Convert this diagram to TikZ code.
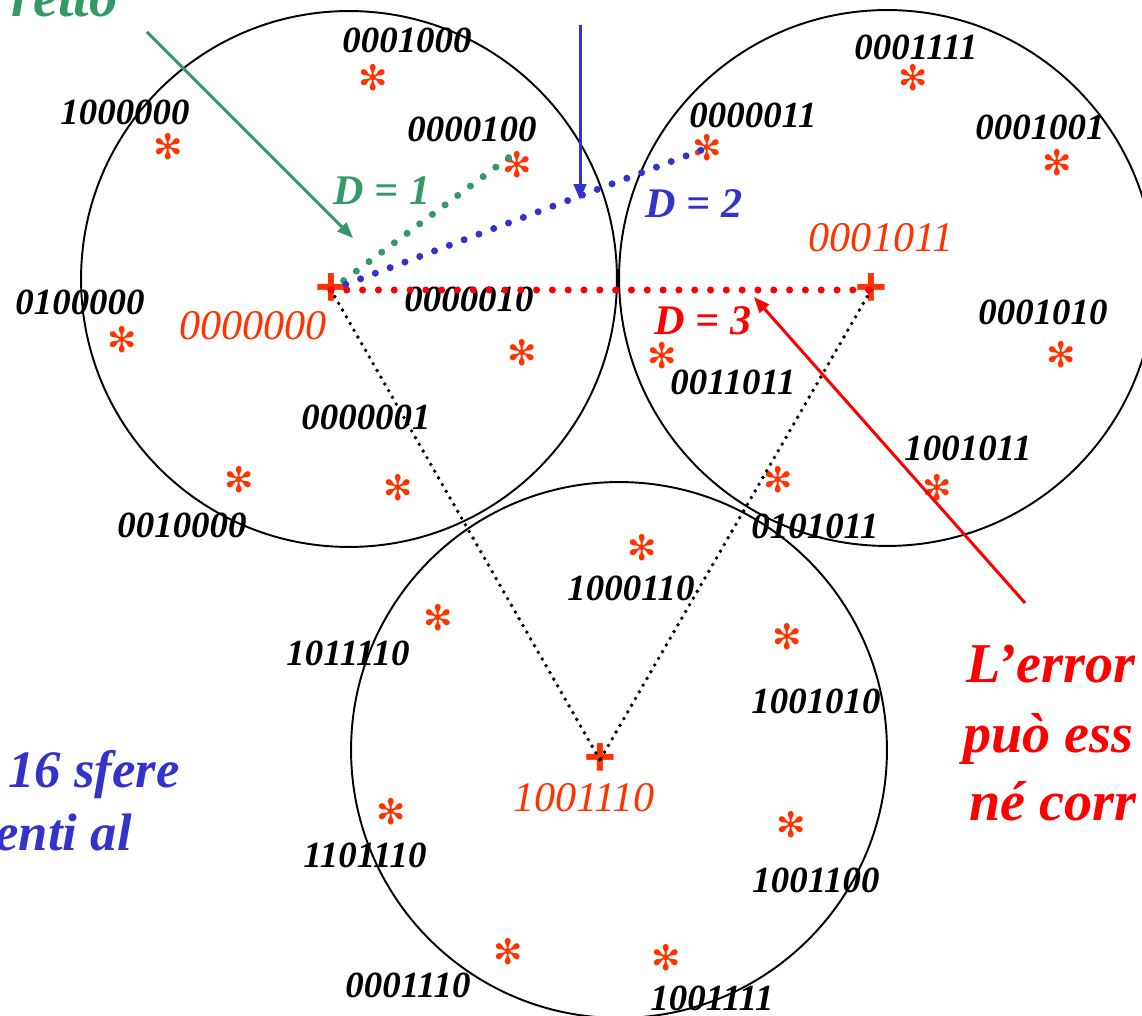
\documentclass[tikz,border=0pt]{standalone}
\usepackage{fontspec}
\setmainfont{Liberation Serif}
\newfontfamily\starfont{DejaVu Sans}
\newfontfamily\crossfont{Liberation Sans}
\usetikzlibrary{arrows.meta}
\definecolor{hamorange}{HTML}{FF3300}
\definecolor{hamred}{HTML}{FF0000}
\definecolor{hamgreen}{HTML}{339966}
\definecolor{hamblue}{HTML}{3333CC}

\begin{document}
\begin{tikzpicture}[
    x=0.02cm, y=-0.02cm,
    sphere/.style={draw=black, line width=1.1pt},
    word/.style={anchor=base, inner sep=0pt,
        font=\fontsize{21}{25}\selectfont\bfseries\itshape},
    codeword/.style={anchor=base, inner sep=0pt, text=hamorange,
        font=\fontsize{24}{28}\selectfont\itshape},
    star/.style={inner sep=0pt, text=hamorange,
        font=\starfont\fontsize{20}{20}\selectfont},
    centre/.style={inner sep=0pt, text=hamorange,
        font=\crossfont\bfseries\fontsize{31}{31}\selectfont},
    dist/.style={anchor=base, inner sep=0pt,
        font=\fontsize{24}{28}\selectfont\bfseries\itshape},
    note/.style={inner sep=0pt,
        font=\fontsize{32}{39}\selectfont\bfseries\itshape},
    hop/.style={line width=4pt, line cap=round, dash pattern=on 0pt off 9pt},
    link/.style={line width=2.2pt, line cap=round, dash pattern=on 0pt off 4.4pt},
    pointer/.style={-{Triangle[length=9pt,width=7pt]}, line width=1.7pt}
]
\useasboundingbox (0,0) rectangle (1142,1016);
\clip (0,0) rectangle (1142,1016);

% Spheres
\draw[sphere] (349,279) circle[radius=5.36cm];
\draw[sphere] (887,278) circle[radius=5.36cm];
\draw[sphere] (619,750) circle[radius=5.36cm];

% Codewords (sphere centres)
\node[centre] (c0) at (331,290) {+};
\node[centre] (c1) at (871,290) {+};
\node[centre] (c2) at (600,760) {+};
\node[codeword] (k0) at (253,340) {0000000};
\node[codeword] (k1) at (881,252) {0001011};
\node[codeword] (k2) at (584,811) {1001110};

% Words at distance 1 - first sphere
\node[word] (w0001000) at (407,53) {0001000};  \node[star] (s0001000) at (373,78) {✻};
\node[word] (w1000000) at (125,125) {1000000}; \node[star] (s1000000) at (168,147) {✻};
\node[word] (w0000100) at (472,142) {0000100}; \node[star] (s0000100) at (517,165) {✻};
\node[word] (w0100000) at (80,315) {0100000};  \node[star] (s0100000) at (122,340) {✻};
\node[word] (w0000010) at (469,312) {0000010}; \node[star] (s0000010) at (522,353) {✻};
\node[word] (w0000001) at (366,430) {0000001}; \node[star] (s0000001) at (398,488) {✻};
\node[word] (w0010000) at (182,537) {0010000}; \node[star] (s0010000) at (239,480) {✻};

% Words at distance 1 - second sphere
\node[word] (w0001111) at (916,60) {0001111};  \node[star] (s0001111) at (913,78) {✻};
\node[word] (w0000011) at (753,128) {0000011}; \node[star] (s0000011) at (707,148) {✻};
\node[word] (w0001001) at (1040,140) {0001001}; \node[star] (s0001001) at (1057,163) {✻};
\node[word] (w0001010) at (1043,325) {0001010}; \node[star] (s0001010) at (1061,355) {✻};
\node[word] (w0011011) at (733,395) {0011011}; \node[star] (s0011011) at (662,356) {✻};
\node[word] (w1001011) at (968,460) {1001011}; \node[star] (s1001011) at (937,488) {✻};
\node[word] (w0101011) at (815,538) {0101011}; \node[star] (s0101011) at (778,480) {✻};

% Words at distance 1 - third sphere
\node[word] (w1000110) at (631,600) {1000110}; \node[star] (s1000110) at (642,548) {✻};
\node[word] (w1011110) at (348,665) {1011110}; \node[star] (s1011110) at (438,618) {✻};
\node[word] (w1001010) at (816,713) {1001010}; \node[star] (s1001010) at (787,637) {✻};
\node[word] (w1101110) at (365,867) {1101110}; \node[star] (s1101110) at (391,812) {✻};
\node[word] (w1001100) at (816,892) {1001100}; \node[star] (s1001100) at (791,825) {✻};
\node[word] (w0001110) at (408,997) {0001110}; \node[star] (s0001110) at (508,952) {✻};
\node[word] (w1001111) at (712,1010) {1001111}; \node[star] (s1001111) at (666,958) {✻};

% Distances
\draw[link] (c0.center) -- (c2.center);
\draw[link] (c1.center) -- (c2.center);
\draw[hop, hamgreen] (c0.center) -- (s0000100.north);
\draw[hop, hamblue] (c0.center) -- (s0000011.center);
\draw[hop, hamred] (c0.center) -- (c1.center);
\node[dist, text=hamgreen] (d1) at (382,205) {D = 1};
\node[dist, text=hamblue] (d2) at (694,218) {D = 2};
\node[dist, text=hamred] (d3) at (703,335) {D = 3};

% Pointers
\coordinate (gtail) at (147,32);
\coordinate (ghead) at (353,238);
\coordinate (btail) at (580,25);
\coordinate (bhead) at (580,200);
\coordinate (rtail) at (1025,603);
\coordinate (rhead) at (754,297);
\draw[pointer, hamgreen] (gtail) -- (ghead);
\draw[pointer, hamblue] (btail) -- (bhead);
\draw[pointer, hamred] (rtail) -- (rhead);

% Side notes (cut by the frame)
\node[note, text=hamgreen, anchor=base east] (ok) at (118,17) {retto};
\node[note, text=hamblue, anchor=base west, font=\fontsize{30}{36}\selectfont\bfseries\itshape] (sf1) at (8,787) {16 sfere};
\node[note, text=hamblue, anchor=base east, font=\fontsize{30}{36}\selectfont\bfseries\itshape] (sf2) at (132,850) {enti al};
\node[note, text=hamred, anchor=base west] (er1) at (966,682) {L’error};
\node[note, text=hamred, anchor=base west] (er2) at (963,752) {può ess};
\node[note, text=hamred, anchor=base west] (er3) at (969,820) {né corr};

\end{tikzpicture}
\end{document}
